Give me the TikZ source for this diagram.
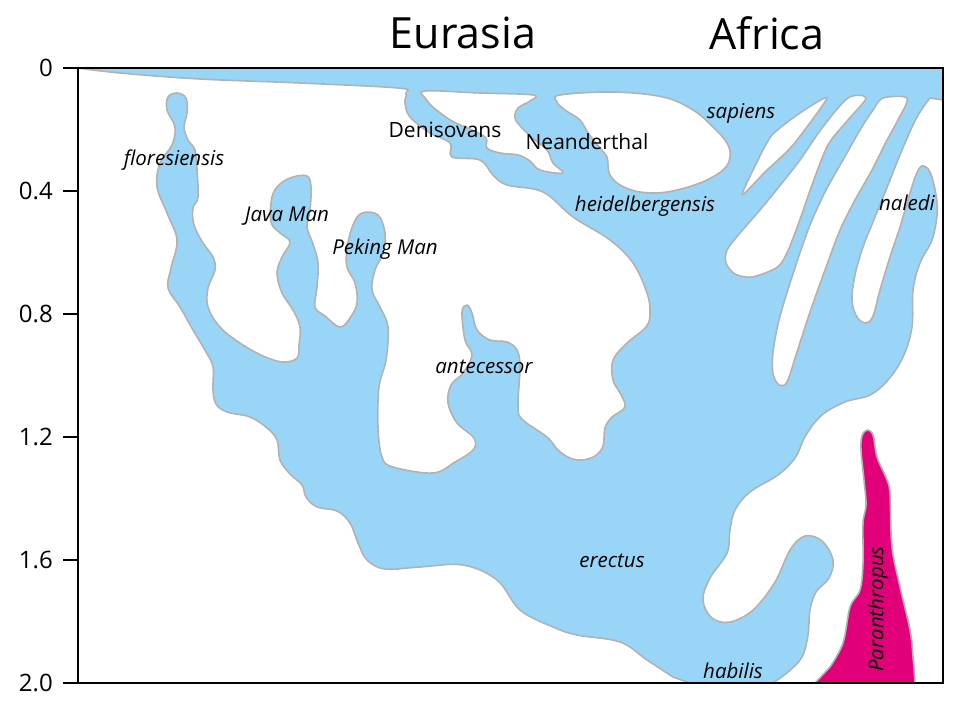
\documentclass[tikz,border=0pt]{standalone}
\usepackage{fontspec}
\setmainfont{Open Sans}
\definecolor{lineage}{RGB}{153,213,247}
\definecolor{robust}{RGB}{226,0,122}
\definecolor{rim}{RGB}{178,178,178}
\begin{document}
\begin{tikzpicture}[x=1pt,y=-1pt,
	branch/.style={fill=lineage,draw=rim,line width=1.6pt,line join=round},
	gap/.style={fill=white,draw=rim,line width=1.6pt,line join=round},
	paran/.style={fill=robust,draw=rim,line width=1.6pt,line join=round},
	taxon/.style={font=\fontsize{20.5}{22}\selectfont\itshape,inner sep=0pt},
	group/.style={font=\fontsize{21}{23}\selectfont,inner sep=0pt},
	region/.style={font=\fontsize{43}{46}\selectfont,inner sep=0pt},
	tick/.style={font=\fontsize{24}{26}\selectfont,anchor=east,inner sep=0pt}]
	\useasboundingbox (0,0) rectangle (960,709);
	\path[branch] (78,68) -- (943,68) -- (943,100) -- plot[smooth,tension=0.6] coordinates {
		(930,98) (917,117) (902,150) (888,185) (875,217) (863,247) (855,275) (852,300) (857,317) (866,323) (873,316)
		(880,290) (890,257) (900,227) (910,193) (916,175) (922,166) (930,172) (936,195) (937,215) (932,240) (920,263)
		(913,290) (912,327) (903,357) (888,380) (870,395) (845,402) (822,415) (806,435) (795,458) (778,475) (750,492)
		(735,510) (730,530) (727,553) (710,578) (703,600) (712,618) (730,622) (753,610) (775,582) (790,550) (805,536)
		(822,541) (833,560) (829,578) (816,592) (810,610) (808,635) (802,657) (788,672) (773,683)}
		-- (690,683) -- plot[smooth,tension=0.6] coordinates {
		(673,677) (647,660) (620,642) (577,635) (553,627) (520,610) (497,580) (463,565) (420,567) (385,569) (367,560)
		(358,543) (350,523) (337,511) (317,507) (306,497) (302,485) (290,474) (280,460) (277,440) (267,428) (250,417)
		(227,412) (216,404) (213,390) (213,367) (206,352) (193,330) (180,307) (168,288) (171,268) (177,240) (167,213)
		(157,187) (160,163) (172,145) (175,127) (167,110) (168,97) (177,93) (186,98) (187,113) (184,127) (188,140)
		(195,150) (197,170) (198,197) (193,208) (194,225) (203,243) (213,257) (215,270) (208,288) (208,307) (220,327)
		(240,343) (263,356) (283,362) (297,358) (299,345) (300,327) (293,310) (282,293) (277,273) (282,257) (290,242)
		(280,233) (271,222) (272,197) (280,184) (293,177) (307,176) (311,187) (310,210) (307,227) (313,244) (318,263)
		(317,287) (315,307) (325,316) (340,327) (350,318) (357,303) (355,283) (347,267) (347,248) (353,225) (362,213)
		(378,215) (385,233) (383,253) (375,270) (372,290) (380,307) (388,327) (386,360) (379,387) (378,427) (382,457)
		(393,467) (433,473) (455,462) (473,450) (474,438) (457,423) (448,403) (451,385) (463,373) (472,355) (465,340)
		(462,312) (467,305) (472,313) (477,330) (490,340) (507,342) (517,350) (520,367) (518,407) (523,420) (547,437)
		(558,450) (570,458) (582,460) (595,456) (603,446) (605,428) (612,417) (625,407) (620,393) (613,380) (613,360)
		(627,343) (646,327) (650,313) (647,293) (633,263) (610,240) (573,217) (543,192) (507,185) (493,175) (480,160)
		(452,157) (450,143) (430,133) (410,117) (405,103) (406,93) (398,88) (300,83) (200,79) (120,73) (78,68)} -- cycle;
	\draw[gap] plot[smooth cycle,tension=0.6] coordinates {(425,91) (480,93) (533,95) (530,101) (518,108) (515,118)
		(522,128) (535,140) (547,150) (553,163) (563,173) (540,170) (530,161) (518,155) (500,153) (487,148) (486,138)
		(472,130) (452,121) (434,108) (426,99)};
	\draw[gap] plot[smooth cycle,tension=0.6] coordinates {(560,95) (613,92) (663,97) (693,110) (713,127) (727,143)
		(730,157) (723,170) (700,183) (667,192) (640,192) (620,185) (610,175) (608,165) (607,157) (600,148) (588,133)
		(580,120) (565,110) (557,102)};
	\draw[gap] plot[smooth cycle,tension=0.4] coordinates {(827,98) (800,113) (772,135) (757,162) (742,195) (765,172)
		(793,145)};
	\draw[gap] plot[smooth cycle,tension=0.5] coordinates {(848,98) (866,98) (848,120) (828,145) (812,185) (798,225)
		(786,255) (776,268) (752,277) (735,274) (726,263) (727,250) (740,233) (760,210) (778,188) (800,160) (822,128)};
	\draw[gap] plot[smooth cycle,tension=0.5] coordinates {(883,98) (907,98) (899,118) (886,142) (872,170) (855,200)
		(840,230) (825,270) (810,312) (797,352) (787,382) (779,385) (773,374) (773,352) (779,320) (791,280) (808,230)
		(825,192) (843,160) (860,130) (873,110)};
	\path[paran] (815,683) -- plot[smooth,tension=0.6] coordinates {(830,667) (843,643) (850,607) (860,590) (863,563)
		(863,523) (866,505) (864,480) (861,450) (862,436) (867,430) (873,435) (877,457) (887,480) (890,495) (892,547)
		(900,587) (910,630) (913,657) (915,683)} -- cycle;
	\draw[line width=2pt] (78,68) -- (943,68) -- (943,683) -- (78,683) -- cycle;
	\foreach \t/\y in {0/68,0.4/191,0.8/314,1.2/437,1.6/560,2.0/683} {
		\draw[line width=2pt] (63,\y) -- (78,\y);
		\node[tick] (age\y) at (53,\y) {\t};
	}
	\node[region] (eurasia) at (463,33) {Eurasia};
	\node[region] (africa) at (767,33) {Africa};
	\node[taxon] (floresiensis) at (174,160) {floresiensis};
	\node[taxon] (java) at (287,216) {Java Man};
	\node[taxon] (peking) at (385,249) {Peking Man};
	\node[group] (denisovans) at (445,130) {Denisovans};
	\node[group] (neanderthal) at (587,142) {Neanderthal};
	\node[taxon] (sapiens) at (741,113) {sapiens};
	\node[taxon] (heidelbergensis) at (645,206) {heidelbergensis};
	\node[taxon] (naledi) at (907,203) {naledi};
	\node[taxon] (antecessor) at (484,367) {antecessor};
	\node[taxon] (erectus) at (612,561) {erectus};
	\node[taxon] (habilis) at (733,671) {habilis};
	\node[taxon,rotate=90] (paranthropus) at (878,609) {Paranthropus};
\end{tikzpicture}
\end{document}
